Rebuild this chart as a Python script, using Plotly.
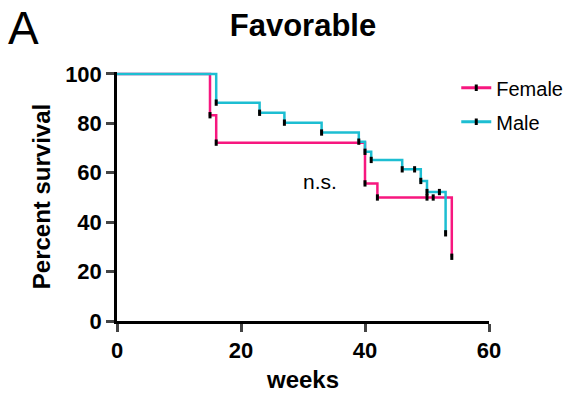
import plotly.graph_objects as go

# ---- data ----
female_time = [0, 15, 16, 40, 42, 54]
female_surv = [100, 83.3, 72.2, 55.7, 50.0, 26.0]
female_cens_time = [15, 16, 40, 42, 50, 51, 54]
female_cens_surv = [83.3, 72.2, 55.7, 50.0, 50.0, 50.0, 26.0]

male_time = [0, 16, 23, 27, 33, 39, 40, 41, 46, 49, 50, 53]
male_surv = [100, 88.4, 84.3, 80.3, 76.3, 72.6, 68.5, 65.2, 61.4, 56.7, 52.2, 35.5]
male_cens_time = [16, 23, 27, 33, 39, 40, 41, 46, 48, 49, 50, 52, 53]
male_cens_surv = [88.4, 84.3, 80.3, 76.3, 72.6, 68.5, 65.2, 61.4, 61.4, 56.7, 52.2, 52.2, 35.5]

x_ticks = [0, 20, 40, 60]
y_ticks = [0, 20, 40, 60, 80, 100]

PINK = "#F7177F"
CYAN = "#1DBED2"
FONT = "Liberation Sans, Arial, sans-serif"

fig = go.Figure()

tick_marker = dict(symbol="line-ns", size=4.5, color="black",
                   line=dict(color="black", width=3))

for name, t, s, ct, cs, col in [
    ("Female", female_time, female_surv, female_cens_time, female_cens_surv, PINK),
    ("Male", male_time, male_surv, male_cens_time, male_cens_surv, CYAN),
]:
    fig.add_trace(go.Scatter(x=t, y=s, mode="lines", line=dict(color=col, width=2.5, shape="hv"),
                             showlegend=False, hoverinfo="skip"))
    fig.add_trace(go.Scatter(x=ct, y=cs, mode="markers", marker=tick_marker,
                             showlegend=False, cliponaxis=False))
    # legend entry
    fig.add_trace(go.Scatter(x=[None], y=[None], mode="lines+markers", name=name,
                             legendgroup=name,
                             line=dict(color=col, width=3), marker=tick_marker))

fig.update_layout(
    width=571, height=402,
    margin=dict(l=117, r=82, t=72, b=81, autoexpand=False),
    plot_bgcolor="white", paper_bgcolor="white",
    font=dict(family=FONT, color="black"),
    title=dict(text="Favorable", x=0.5, xanchor="center", xref="paper",
               y=1 - 25 / 402, yanchor="middle", yref="container",
               font=dict(size=31, family=FONT, color="black", weight="bold")),
    legend=dict(x=0.912, xanchor="left", y=1.015, yanchor="top",
                font=dict(size=20, family=FONT), tracegroupgap=5,
                bgcolor="rgba(0,0,0,0)"),
    annotations=[
        dict(text="A", xref="paper", yref="paper", x=-0.298, y=1.177,
             xanchor="left", yanchor="middle", showarrow=False,
             font=dict(size=46, family=FONT, color="black")),
        dict(text="n.s.", xref="x", yref="y", x=32.8, y=56.3,
             xanchor="center", yanchor="middle", showarrow=False,
             font=dict(size=21, family=FONT, color="black")),
    ],
)

fig.update_xaxes(range=[0, 60], tickvals=x_ticks, ticks="outside", ticklen=8, tickwidth=2.5,
                 showline=True, linewidth=2.5, linecolor="black", showgrid=False, zeroline=False,
                 tickfont=dict(size=22, family=FONT, color="black", weight="bold"),
                 title=dict(text="weeks", font=dict(size=24, family=FONT, weight="bold"), standoff=10))
fig.update_yaxes(range=[0, 100.8], tickvals=y_ticks, ticks="outside", ticklen=8, tickwidth=2.5,
                 showline=True, linewidth=2.5, linecolor="black", showgrid=False, zeroline=False,
                 tickfont=dict(size=22, family=FONT, color="black", weight="bold"),
                 title=dict(text="Percent survival", font=dict(size=24, family=FONT, weight="bold"), standoff=8))

fig.write_html("out.html")
